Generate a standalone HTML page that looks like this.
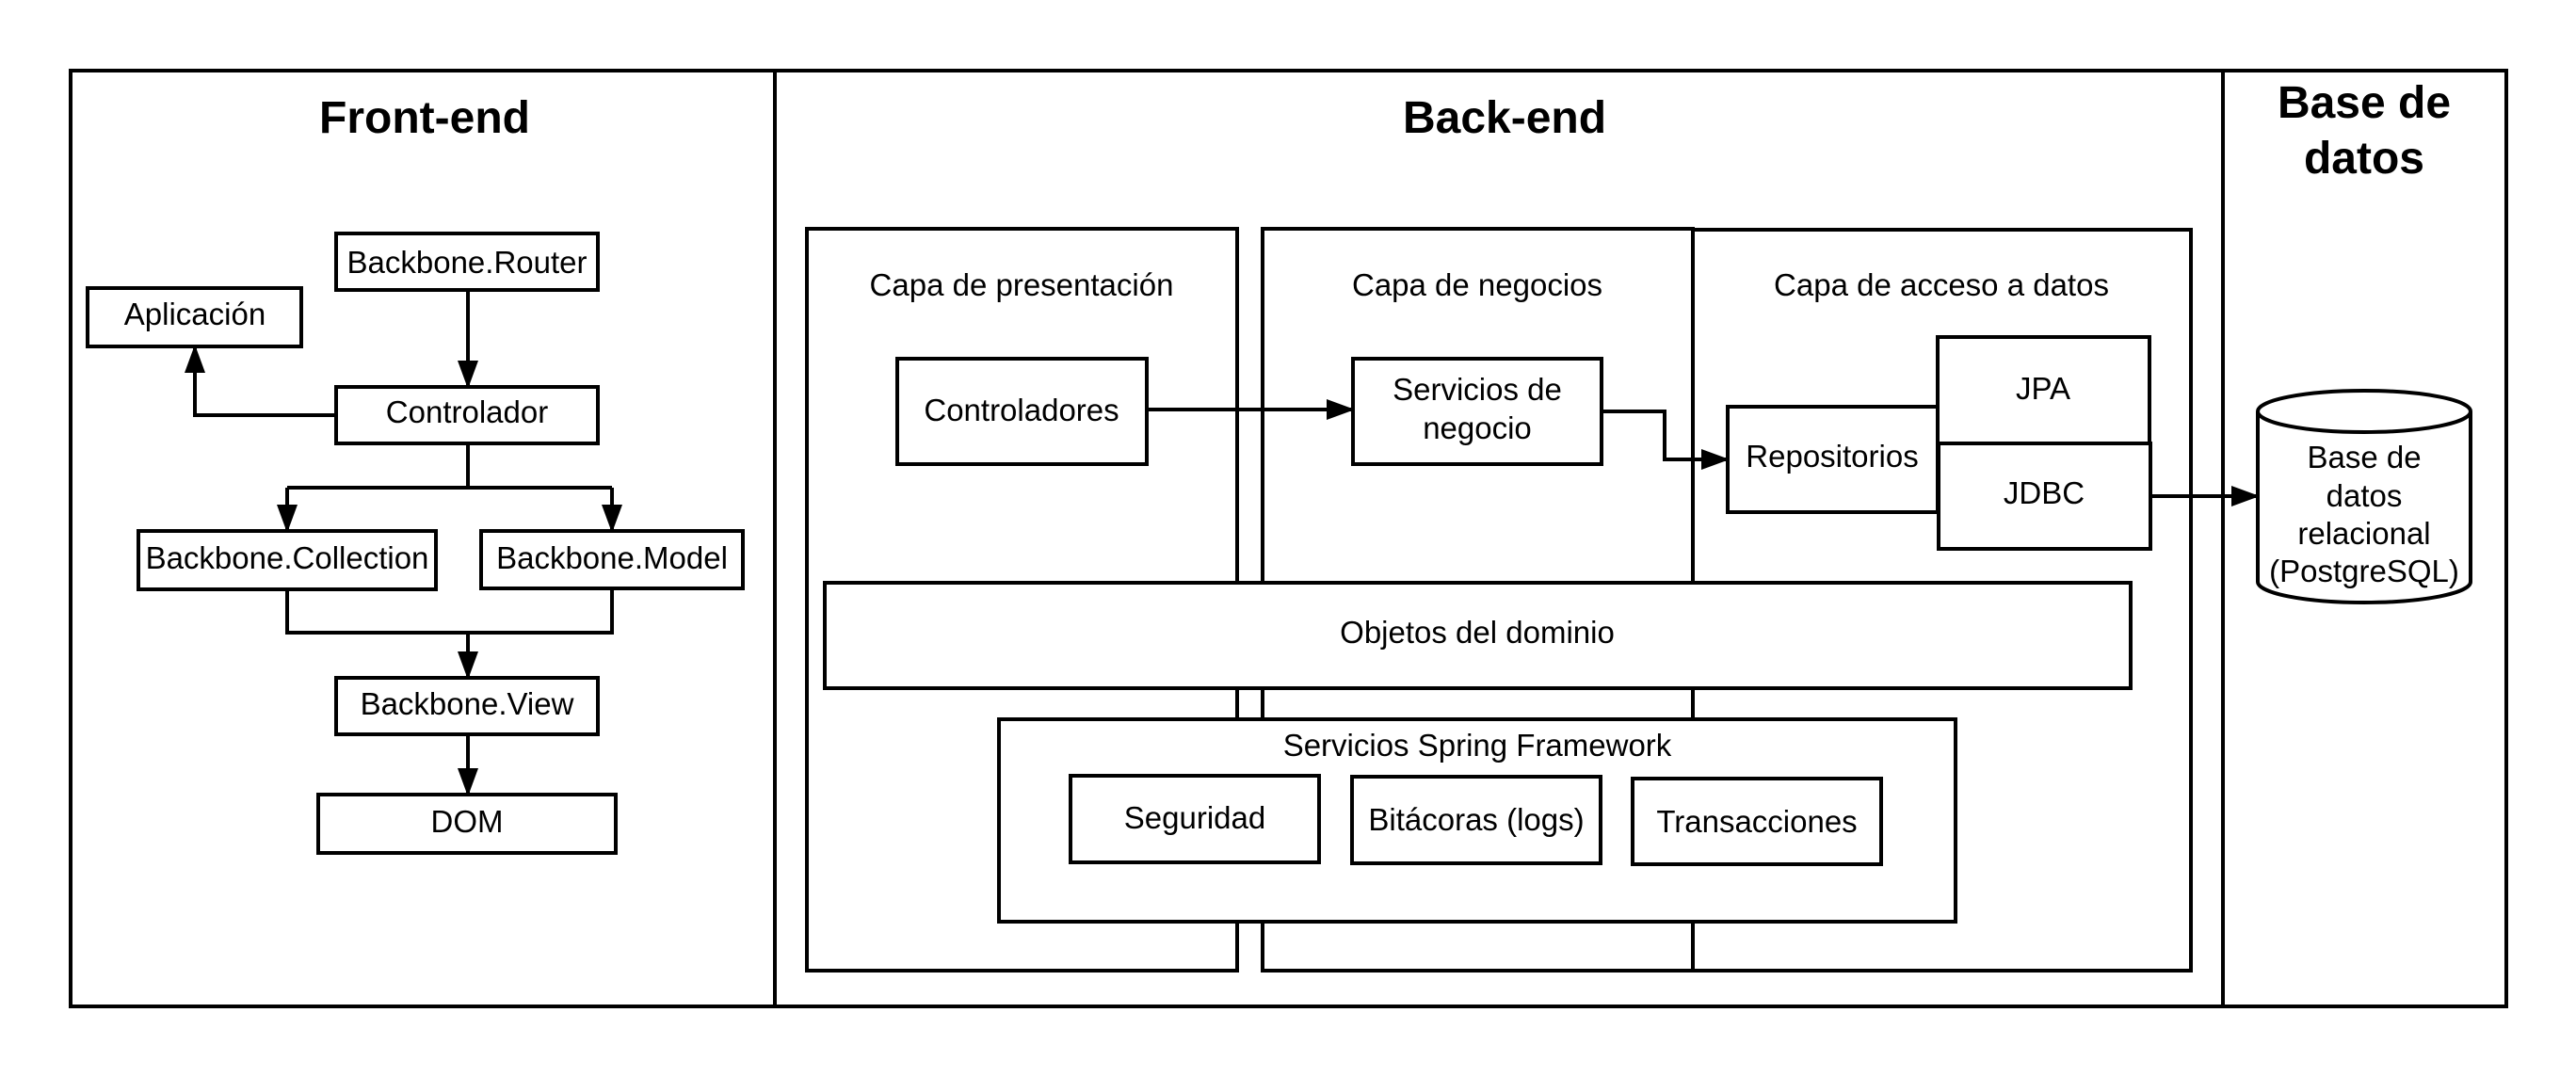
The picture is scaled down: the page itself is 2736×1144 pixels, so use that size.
<!DOCTYPE html>
<html><head><meta charset="utf-8"><style>
html,body{margin:0;padding:0;background:#fff;}
svg{display:block;}
text{font-family:"Liberation Sans",Arial,sans-serif;fill:#000;}
</style></head><body>
<svg width="2736" height="1144" viewBox="0 0 2736 1144" xmlns="http://www.w3.org/2000/svg">
<defs>
<marker id="a" markerWidth="30" markerHeight="22" refX="28" refY="11" orient="auto" markerUnits="userSpaceOnUse">
<path d="M0,0 L30,11 L0,22 Z" fill="#000"/>
</marker>
</defs>
<g fill="none" stroke="#000" stroke-width="4">
<rect x="75" y="75" width="2587" height="994" fill="#fff"/>
<line x1="823" y1="75" x2="823" y2="1069"/>
<line x1="2361" y1="75" x2="2361" y2="1069"/>
</g>
<g font-weight="bold" font-size="48" text-anchor="middle">
<text x="451" y="141">Front-end</text>
<text x="1598" y="141">Back-end</text>
<text x="2511" y="125">Base de</text>
<text x="2511" y="184">datos</text>
</g>
<!-- Front-end -->
<g fill="none" stroke="#000" stroke-width="4">
<rect x="357" y="248" width="278" height="60" fill="#fff"/>
<rect x="93" y="306" width="227" height="62" fill="#fff"/>
<rect x="357" y="411" width="278" height="60" fill="#fff"/>
<rect x="147" y="564" width="316" height="62" fill="#fff"/>
<rect x="511" y="564" width="278" height="61" fill="#fff"/>
<rect x="357" y="720" width="278" height="60" fill="#fff"/>
<rect x="338" y="844" width="316" height="62" fill="#fff"/>
<path d="M497 308 L497 411" marker-end="url(#a)"/>
<path d="M357 441 L207 441 L207 368" marker-end="url(#a)"/>
<path d="M497 471 L497 518"/>
<path d="M305 518 L650 518"/>
<path d="M305 518 L305 564" marker-end="url(#a)"/>
<path d="M650 518 L650 564" marker-end="url(#a)"/>
<path d="M305 626 L305 672 L650 672 L650 625"/>
<path d="M497 672 L497 720" marker-end="url(#a)"/>
<path d="M497 780 L497 844" marker-end="url(#a)"/>
</g>
<g font-size="33" text-anchor="middle">
<text x="496" y="290">Backbone.Router</text>
<text x="207" y="345">Aplicación</text>
<text x="496" y="449">Controlador</text>
<text x="305" y="604">Backbone.Collection</text>
<text x="650" y="604">Backbone.Model</text>
<text x="496" y="759">Backbone.View</text>
<text x="496" y="884">DOM</text>
</g>
<!-- Back-end -->
<g fill="none" stroke="#000" stroke-width="4">
<rect x="857" y="243" width="457" height="788"/>
<rect x="1341" y="243" width="457" height="788"/>
<rect x="1798" y="244" width="529" height="787"/>
<rect x="953" y="381" width="265" height="112" fill="#fff"/>
<rect x="1437" y="381" width="264" height="112" fill="#fff"/>
<rect x="1835" y="432" width="223" height="112" fill="#fff"/>
<rect x="2058" y="358" width="225" height="113" fill="#fff"/>
<rect x="2059" y="471" width="225" height="112" fill="#fff"/>
<path d="M1218 435 L1437 435" marker-end="url(#a)"/>
<path d="M1701 437 L1768 437 L1768 488 L1835 488" marker-end="url(#a)"/>
<path d="M2284 527 L2398 527" marker-end="url(#a)"/>
<rect x="876" y="619" width="1387" height="112" fill="#fff"/>
<rect x="1061" y="764" width="1016" height="215" fill="#fff"/>
<rect x="1137" y="824" width="264" height="92" fill="#fff"/>
<rect x="1436" y="825" width="264" height="92" fill="#fff"/>
<rect x="1734" y="827" width="264" height="91" fill="#fff"/>
<path d="M2398 437 L2398 618 A113 22 0 0 0 2624 618 L2624 437" fill="#fff"/>
<ellipse cx="2511" cy="437" rx="113" ry="22" fill="#fff"/>
</g>
<g font-size="33" text-anchor="middle">
<text x="1085" y="314">Capa de presentación</text>
<text x="1569" y="314">Capa de negocios</text>
<text x="2062" y="314">Capa de acceso a datos</text>
<text x="1085" y="447">Controladores</text>
<text x="1569" y="425">Servicios de</text>
<text x="1569" y="466">negocio</text>
<text x="1946" y="496">Repositorios</text>
<text x="2170" y="424">JPA</text>
<text x="2171" y="535">JDBC</text>
<text x="1569" y="683">Objetos del dominio</text>
<text x="1569" y="803">Servicios Spring Framework</text>
<text x="1269" y="880">Seguridad</text>
<text x="1568" y="882">Bitácoras (logs)</text>
<text x="1866" y="884">Transacciones</text>
<text x="2511" y="497">Base de</text>
<text x="2511" y="538">datos</text>
<text x="2511" y="578">relacional</text>
<text x="2511" y="618">(PostgreSQL)</text>
</g>
</svg>
</body></html>
